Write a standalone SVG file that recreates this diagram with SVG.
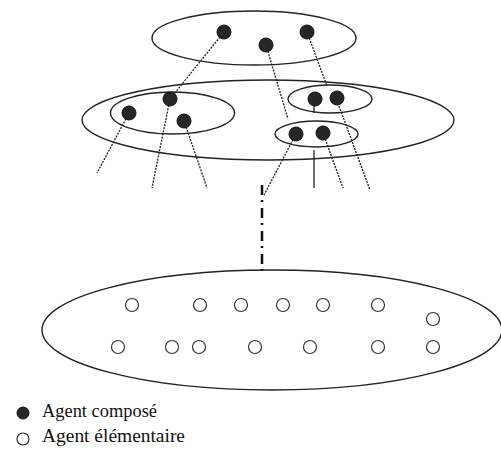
<svg xmlns="http://www.w3.org/2000/svg" width="501" height="450" viewBox="0 0 501 450">
<style>
.ell{fill:none;stroke:#222;stroke-width:1.4}
.dot{fill:#262626;stroke:#111;stroke-width:1}
.open{fill:none;stroke:#333;stroke-width:1.2}
.dl{stroke:#222;stroke-width:1.3;stroke-dasharray:2 1.2;fill:none}
.sl{stroke:#222;stroke-width:1.3;fill:none}
.dd{stroke:#111;stroke-width:2.5;stroke-dasharray:10 5 2 6;fill:none}
.lbl{font-family:"Liberation Serif",serif;font-size:18px;fill:#111}
</style>
<rect width="501" height="450" fill="#fff"/>
<g id="connectors">
<line class="dl" x1="224" y1="32" x2="170" y2="99"/>
<line class="dl" x1="170" y1="99" x2="152" y2="188"/>
<line class="dl" x1="129" y1="113" x2="97" y2="173"/>
<line class="dl" x1="184" y1="121" x2="207" y2="188"/>
<line class="dl" x1="266" y1="45" x2="288" y2="119"/>
<line class="dl" x1="307" y1="32" x2="327" y2="86"/>
<line class="sl" x1="314" y1="105" x2="314" y2="113"/>
<line class="dl" x1="339" y1="106" x2="370" y2="190"/>
<line class="dl" x1="296" y1="134" x2="264" y2="195"/>
<line class="dl" x1="323" y1="133" x2="343" y2="188"/>
<line class="sl" x1="314" y1="150" x2="314" y2="188"/>
<line class="dd" x1="262" y1="185" x2="262" y2="271"/>
</g>
<g id="level3">
<ellipse class="ell" cx="254" cy="38" rx="102" ry="27"/>
<circle class="dot" cx="224" cy="32" r="7"/>
<circle class="dot" cx="266" cy="45" r="7"/>
<circle class="dot" cx="307" cy="32" r="7"/>
</g>
<g id="level2">
<ellipse class="ell" cx="268" cy="120" rx="186" ry="40"/>
</g>
<g id="groupLeft">
<ellipse class="ell" cx="172.5" cy="113" rx="62" ry="21"/>
<circle class="dot" cx="129" cy="113" r="7"/>
<circle class="dot" cx="170" cy="99" r="7"/>
<circle class="dot" cx="184" cy="121" r="7"/>
</g>
<g id="groupRightUpper">
<ellipse class="ell" cx="330" cy="99" rx="42" ry="14"/>
<circle class="dot" cx="315" cy="99" r="7"/>
<circle class="dot" cx="337" cy="98" r="7"/>
</g>
<g id="groupRightLower">
<ellipse class="ell" cx="316.5" cy="134" rx="41.5" ry="13"/>
<circle class="dot" cx="296" cy="134" r="7"/>
<circle class="dot" cx="323" cy="133" r="7"/>
</g>
<g id="level1">
<ellipse class="ell" cx="272" cy="330" rx="230" ry="60"/>
<circle class="open" cx="132" cy="305" r="6.5"/>
<circle class="open" cx="200" cy="305" r="6.5"/>
<circle class="open" cx="241" cy="305" r="6.5"/>
<circle class="open" cx="283" cy="305" r="6.5"/>
<circle class="open" cx="323" cy="305" r="6.5"/>
<circle class="open" cx="378" cy="305" r="6.5"/>
<circle class="open" cx="433" cy="319" r="6.5"/>
<circle class="open" cx="118" cy="347" r="6.5"/>
<circle class="open" cx="172" cy="347" r="6.5"/>
<circle class="open" cx="199" cy="347" r="6.5"/>
<circle class="open" cx="255" cy="347" r="6.5"/>
<circle class="open" cx="310" cy="347" r="6.5"/>
<circle class="open" cx="378" cy="347" r="6.5"/>
<circle class="open" cx="433" cy="347" r="6.5"/>
</g>
<g id="legend">
<circle class="dot" cx="23" cy="413" r="6"/>
<text class="lbl" x="42" y="417" textLength="115" lengthAdjust="spacingAndGlyphs">Agent composé</text>
<circle class="open" cx="23" cy="439" r="6"/>
<text class="lbl" x="42" y="442" textLength="143" lengthAdjust="spacingAndGlyphs">Agent élémentaire</text>
</g>
</svg>
